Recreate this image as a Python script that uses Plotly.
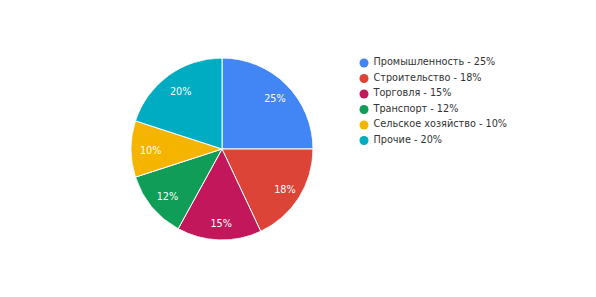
import plotly.graph_objects as go

labels = ["Промышленность", "Строительство", "Торговля", "Транспорт", "Сельское хозяйство", "Прочие"]
values = [25, 18, 15, 12, 10, 20]
colors = ["#4285F4", "#DB4437", "#C2185B", "#0F9D58", "#F4B400", "#00ACC1"]

total = sum(values)
legend_text = [f"{l} - {round(v * 100 / total)}%" for l, v in zip(labels, values)]
pct_text = [f"{round(v * 100 / total)}%" for v in values]
widths = [v / total * 360 for v in values]
cum, mid_theta = 0, []
for v in values:
    mid_theta.append((cum + v / 2) / total * 360)
    cum += v

W, H = 596, 297
off = 8  # page body margin
cx, cy, r = 222 - off, 149 - off, 91
FS = 9.7


def dom(x0, y0, rad):
    return dict(x=[(x0 - rad) / W, (x0 + rad) / W], y=[(H - y0 - rad) / H, (H - y0 + rad) / H])


fig = go.Figure()
fig.add_trace(go.Barpolar(
    r=[1] * len(values), theta=mid_theta, width=widths, base=0,
    marker=dict(color=colors, line=dict(color="white", width=1)),
    hovertext=legend_text, hoverinfo="text",
    subplot="polar", showlegend=False,
))
fig.add_trace(go.Scatterpolar(
    r=[0.8] * len(values), theta=mid_theta, mode="text", text=pct_text,
    textfont=dict(color="white", size=FS, family="DejaVu Sans"),
    subplot="polar2", showlegend=False, hoverinfo="skip",
))

lx = 364 - off
fig.add_trace(go.Scatter(
    x=[0] * len(labels), y=list(range(len(labels))),
    mode="markers", marker=dict(color=colors, size=9),
    xaxis="x", yaxis="y", cliponaxis=False, showlegend=False, hoverinfo="skip",
))
fig.add_trace(go.Scatter(
    x=[9.5] * len(labels), y=list(range(len(labels))),
    mode="text", text=legend_text, textposition="middle right",
    textfont=dict(color="#333333", size=FS, family="DejaVu Sans"),
    xaxis="x", yaxis="y", cliponaxis=False, showlegend=False, hoverinfo="skip",
))
top, bot = 63 - off, 140.5 - off
polar_common = dict(
    bgcolor="rgba(0,0,0,0)", bargap=0,
    radialaxis=dict(range=[0, 1], visible=False),
    angularaxis=dict(rotation=90, direction="clockwise", visible=False),
)
fig.update_layout(
    width=W, height=H, margin=dict(l=0, r=0, t=0, b=0),
    paper_bgcolor="white", plot_bgcolor="white",
    showlegend=False,
    font=dict(family="DejaVu Sans", size=FS, color="#333333"),
    polar=dict(domain=dom(cx, cy, r), **polar_common),
    polar2=dict(domain=dom(cx + 1.5, cy + 2.5, r), **polar_common),
    xaxis=dict(domain=[lx / W, (lx + 232) / W], range=[0, 232], visible=False, fixedrange=True),
    yaxis=dict(domain=[(H - bot) / H, (H - top) / H], range=[5, 0], visible=False, fixedrange=True),
)
fig.write_html("out.html")
